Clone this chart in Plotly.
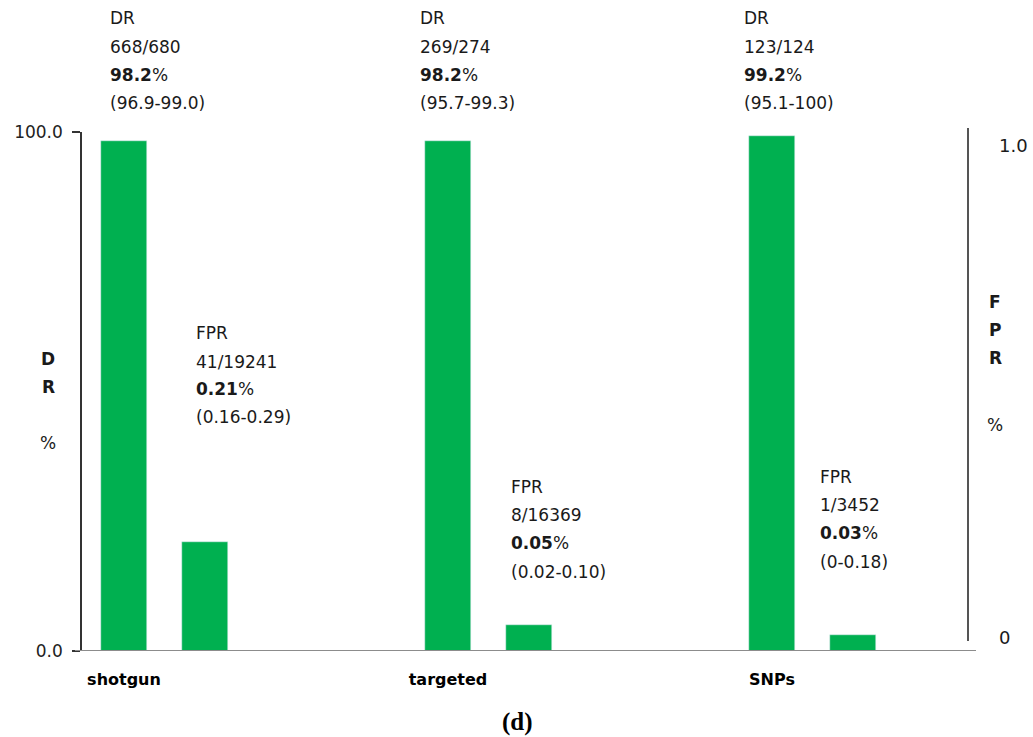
import plotly.graph_objects as go

# ---- data ----
categories = ["shotgun", "targeted", "SNPs"]
dr_values = [98.2, 98.2, 99.2]          # detection rate, %
fpr_values = [0.21, 0.05, 0.03]         # false positive rate, %
dr_counts = ["668/680", "269/274", "123/124"]
dr_ci = ["(96.9-99.0)", "(95.7-99.3)", "(95.1-100)"]
fpr_counts = ["41/19241", "8/16369", "1/3452"]
fpr_ci = ["(0.16-0.29)", "(0.02-0.10)", "(0-0.18)"]
left_ticks = [0, 100]
right_ticks = [0, 1]
right_tick_labels = ["0", "1.0"]

# ---- layout constants ----
W, H = 1033, 737
ML, MR, MT, MB = 82, 65, 132, 86
PLOT_W = W - ML - MR
PLOT_H = H - MT - MB
GREEN = "#00B050"
TXT = "#1a1a1a"
FONT = "DejaVu Sans"
FS = 17


def py(pix):
    """pixel y (from top) -> paper y"""
    return (H - MB - pix) / PLOT_H


def px(pix):
    """pixel x (from left) -> paper x"""
    return (pix - ML) / PLOT_W


fig = go.Figure()
BW = 0.145
fig.add_trace(go.Bar(x=categories, y=dr_values, name="DR", marker_color=GREEN,
                     width=BW, offset=-BW / 2, yaxis="y", showlegend=False))
fig.add_trace(go.Bar(x=categories, y=fpr_values, name="FPR", marker_color=GREEN,
                     width=BW, offset=0.25 - BW / 2, yaxis="y2", showlegend=False))

ann = []
# DR labels above each group
dr_xshift = [-16, -30, -30]
dr_lines_y = [18, 47, 75, 103]
for i, c in enumerate(categories):
    lines = ["DR", dr_counts[i], f"<b>{dr_values[i]}</b>%", dr_ci[i]]
    for t, yy in zip(lines, dr_lines_y):
        ann.append(dict(x=c, xref="x", y=py(yy), yref="paper", text=t,
                        xanchor="left", yanchor="middle", xshift=dr_xshift[i],
                        showarrow=False, font=dict(family=FONT, size=FS, color=TXT)))

# FPR labels
fpr_xshift = [70, 61, 46]
fpr_lines_y = [[333, 362, 389, 417], [487, 515, 543, 572], [477, 505, 533, 562]]
for i, c in enumerate(categories):
    lines = ["FPR", fpr_counts[i], f"<b>{fpr_values[i]:.2f}</b>%", fpr_ci[i]]
    for t, yy in zip(lines, fpr_lines_y[i]):
        ann.append(dict(x=c, xref="x", y=py(yy), yref="paper", text=t,
                        xanchor="left", yanchor="middle", xshift=fpr_xshift[i],
                        showarrow=False, font=dict(family=FONT, size=FS, color=TXT)))

# left axis title
for t, yy in zip(["<b>D</b>", "<b>R</b>", "%"], [359, 387, 443]):
    ann.append(dict(x=px(48), xref="paper", y=py(yy), yref="paper", text=t,
                    xanchor="center", yanchor="middle", showarrow=False,
                    font=dict(family=FONT, size=17, color=TXT)))
# right axis title
for t, yy in zip(["<b>F</b>", "<b>P</b>", "<b>R</b>", "%"], [302, 330, 358, 425]):
    ann.append(dict(x=px(995), xref="paper", y=py(yy), yref="paper",
                    text=t, xanchor="center", yanchor="middle", showarrow=False,
                    font=dict(family=FONT, size=17, color=TXT)))

# right axis tick labels (drawn slightly inside the scale, as in the source)
for v, lab, ysh in zip(right_ticks, right_tick_labels, [14, -13]):
    ann.append(dict(x=1, xref="paper", y=v, yref="y2", text=lab,
                    xanchor="left", yanchor="middle", xshift=29, yshift=ysh,
                    showarrow=False, font=dict(family=FONT, size=18, color=TXT)))

# panel label
ann.append(dict(x=px(517), xref="paper", y=py(722), yref="paper",
                text="<b>(d)</b>", xanchor="center", yanchor="middle", showarrow=False,
                font=dict(family="Liberation Serif", size=25, color="black")))

shapes = [
    # baseline
    dict(type="line", xref="paper", yref="y", x0=px(75), x1=px(976),
         y0=0, y1=0, line=dict(color="#8c8c8c", width=2)),
    # right axis line
    dict(type="line", xref="paper", yref="paper", x0=1, x1=1, y0=py(641), y1=py(128),
         line=dict(color="#555555", width=2)),
]

fig.update_layout(
    width=W, height=H,
    margin=dict(l=ML, r=MR, t=MT, b=MB),
    paper_bgcolor="white", plot_bgcolor="white",
    bargap=0,
    xaxis=dict(type="category", range=[-(124 - ML) / 324, 2 + (968 - 772) / 324],
               showgrid=False, zeroline=False, showline=False, ticks="",
               tickfont=dict(family=FONT, size=16, color="black", weight="bold"),
               ticklabelstandoff=17),
    yaxis=dict(range=[0, 100], tickvals=left_ticks, tickformat=".1f",
               showgrid=False, zeroline=False, showline=True, linecolor="#333333",
               linewidth=1.5, ticks="outside", ticklen=8, tickcolor="#333333", tickwidth=1.5,
               tickfont=dict(family=FONT, size=17, color="#222222"), ticklabelstandoff=6),
    yaxis2=dict(range=[0, 1], overlaying="y", side="right", showgrid=False,
                zeroline=False, showline=False, showticklabels=False, ticks=""),
    annotations=ann,
    shapes=shapes,
)

fig.write_html("out.html", config={"displayModeBar": False},
               post_script="document.body.style.margin='0';")
